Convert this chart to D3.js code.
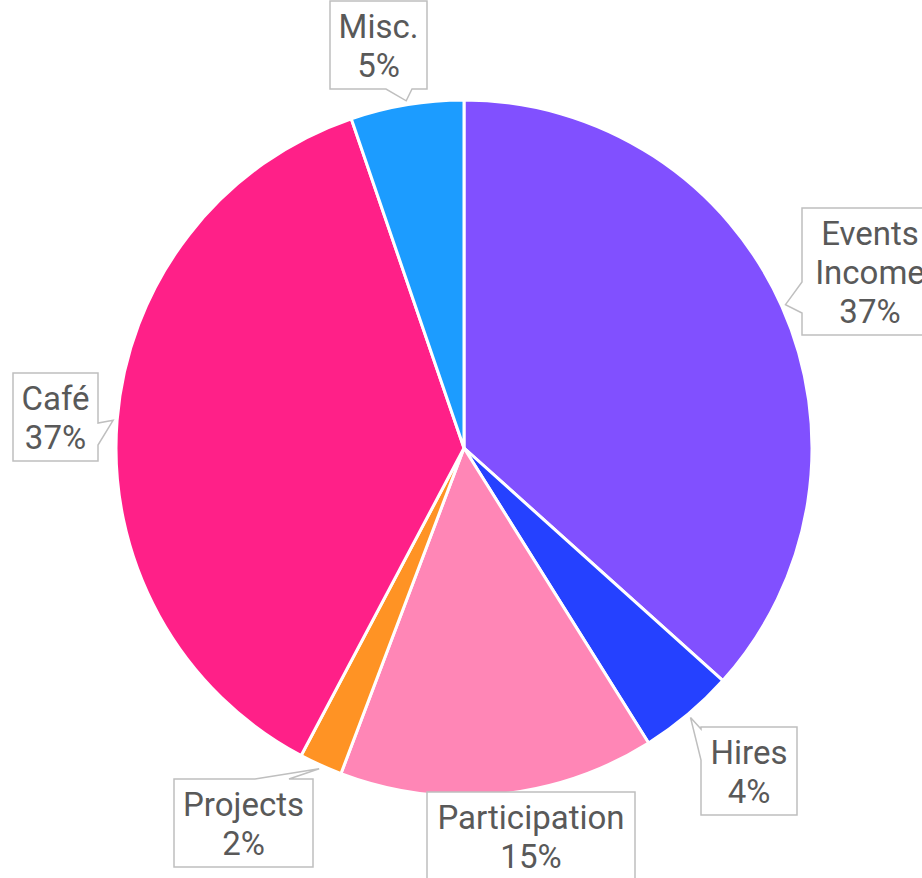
<!DOCTYPE html>
<html>
<head>
<meta charset="utf-8">
<script src="https://cdn.jsdelivr.net/npm/d3@7"></script>
<style>
  html, body { margin: 0; padding: 0; background: #fff; }
  svg { display: block; }
</style>
</head>
<body>
<svg id="chart" width="922" height="878"></svg>
<script>
// Slices, clockwise from 12 o'clock
const categories = ['Events Income', 'Hires', 'Participation', 'Projects', 'Café', 'Misc.'];
const values = [36.65, 4.45, 14.65, 2.0, 37.0, 5.25];
const colors = ['#8150ff', '#2541ff', '#ff86b6', '#ff9324', '#ff2088', '#1c9cff'];
// label text lines (percentage is appended as the last line)
const labelLines = [['Events', 'Income'], ['Hires'], ['Participation'], ['Projects'], ['Café'], ['Misc.']];

// callout boxes: box rect + which edge carries the pointer, and where its base sits
const calloutLayout = [
  { x: 802, y: 208, w: 136, side: 'left', base: [282, 313] },
  { x: 701, y: 727, w: 96, side: 'left', base: [729, 760] },
  { x: 427, y: 792, w: 208, side: null },
  { x: 174, y: 779, w: 139, side: 'top', base: [255, 289] },
  { x: 13, y: 373, w: 85, side: 'right', base: [423, 445] },
  { x: 330, y: 1, w: 97, side: 'bottom', base: [386, 412] },
];

const width = 922;
const height = 878;
const cx = 464;
const cy = 448;
const radius = 348;
const lineH = 39;
const fontSize = 33;

const svg = d3.select('#chart');
const total = d3.sum(values);

const data = categories.map((c, i) => ({ name: c, value: values[i], color: colors[i], lines: labelLines[i], box: calloutLayout[i] }));

const pie = d3.pie().value((d) => d.value).sort(null);
const arc = d3.arc().innerRadius(0).outerRadius(radius);
const arcs = pie(data);

const g = svg.append('g').attr('transform', `translate(${cx},${cy})`);
g.selectAll('path.slice')
  .data(arcs)
  .enter()
  .append('path')
  .attr('class', 'slice')
  .attr('d', arc)
  .attr('fill', (d) => d.data.color)
  .attr('stroke', '#fff')
  .attr('stroke-width', 3)
  .attr('stroke-linejoin', 'round');

// Build the callout outline: rectangle with a wedge pointing at the slice
function calloutPath(b, h, tip) {
  const x0 = b.x, y0 = b.y, x1 = b.x + b.w, y1 = b.y + h;
  const p = [];
  p.push([x0, y0]);
  if (b.side === 'top') { p.push([b.base[0], y0], tip, [b.base[1], y0]); }
  p.push([x1, y0]);
  if (b.side === 'right') { p.push([x1, b.base[0]], tip, [x1, b.base[1]]); }
  p.push([x1, y1]);
  if (b.side === 'bottom') { p.push([b.base[1], y1], tip, [b.base[0], y1]); }
  p.push([x0, y1]);
  if (b.side === 'left') { p.push([x0, b.base[1]], tip, [x0, b.base[0]]); }
  return 'M' + p.map((q) => q.join(',')).join('L') + 'Z';
}

const labels = svg.append('g').attr('class', 'labels');
arcs.forEach((a) => {
  const d = a.data;
  const b = d.box;
  const lines = [...d.lines, Math.round((d.value / total) * 100) + '%'];
  const h = lines.length * lineH + 10;
  const mid = (a.startAngle + a.endAngle) / 2;
  const tip = [cx + (radius + 4) * Math.sin(mid), cy - (radius + 4) * Math.cos(mid)];

  labels.append('path')
    .attr('d', calloutPath(b, h, tip))
    .attr('fill', '#fff')
    .attr('stroke', '#bfbfbf')
    .attr('stroke-width', 1.5);

  const t = labels.append('text')
    .attr('font-family', 'Roboto, sans-serif')
    .attr('font-size', fontSize)
    .attr('fill', '#595959')
    .attr('text-anchor', 'middle');
  lines.forEach((ln, i) => {
    t.append('tspan')
      .attr('x', b.x + b.w / 2)
      .attr('y', b.y + 37 + i * lineH)
      .text(ln);
  });
});
</script>
</body>
</html>
